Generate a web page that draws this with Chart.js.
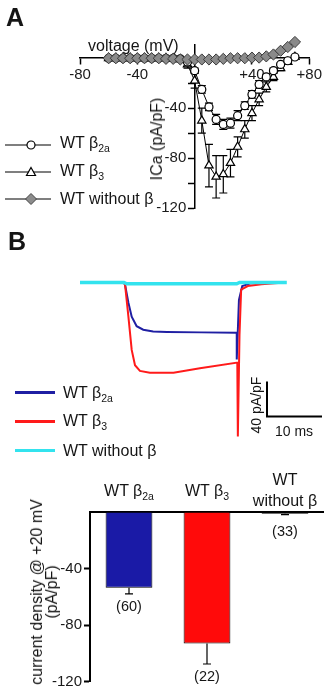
<!DOCTYPE html>
<html>
<head>
<meta charset="utf-8">
<script src="https://cdn.jsdelivr.net/npm/chart.js@4.4.1/dist/chart.umd.min.js"></script>
<style>
body { margin: 0; background: #fff; }
#fig { position: relative; width: 324px; height: 698px; overflow: hidden; background: #fff;
       font-family: "Liberation Sans", Arial, Helvetica, sans-serif; color: #151515; }
#fig canvas { position: absolute; left: 0; }
.t { position: absolute; white-space: nowrap; font-size: 16px; line-height: 16px; }
.big { font-weight: bold; font-size: 25px; line-height: 25px; }
.rot { transform: translate(-50%, -50%) rotate(-90deg); }
.c { transform: translateX(-50%); text-align: center; }
sub { font-size: 10.5px; vertical-align: -4px; line-height: 0; }
.sw { position: absolute; width: 40px; }
</style>
</head>
<body>
<div id="fig">
  <canvas id="iv" width="324" height="190" style="top:30px"></canvas>
  <canvas id="trace" width="324" height="185" style="top:260px"></canvas>
  <canvas id="bars" width="324" height="198" style="top:500px"></canvas>

  <!-- panel A -->
  <div class="t big" style="left:6px;top:5px">A</div>
  <div class="t" style="left:88px;top:38px">voltage (mV)</div>
  <div class="t rot" style="left:157px;top:139px">ICa (pA/pF)</div>
  <svg class="t" style="left:4px;top:137px" width="52" height="16">
    <line x1="1" y1="8" x2="47" y2="8" stroke="#000" stroke-width="1.2"/>
    <circle cx="27" cy="8" r="4" fill="#fff" stroke="#000" stroke-width="1.2"/>
  </svg>
  <div class="t" style="left:60px;top:135px">WT β<sub>2a</sub></div>
  <svg class="t" style="left:4px;top:164px" width="52" height="16">
    <line x1="1" y1="8" x2="47" y2="8" stroke="#000" stroke-width="1.2"/>
    <polygon points="27,3.5 31.5,11.5 22.5,11.5" fill="#fff" stroke="#000" stroke-width="1.2"/>
  </svg>
  <div class="t" style="left:60px;top:163px">WT β<sub>3</sub></div>
  <svg class="t" style="left:4px;top:191px" width="52" height="16">
    <line x1="1" y1="8" x2="47" y2="8" stroke="#000" stroke-width="1.2"/>
    <polygon points="27,2.5 32.5,8 27,13.5 21.5,8" fill="#8c8c8c" stroke="#444" stroke-width="1"/>
  </svg>
  <div class="t" style="left:60px;top:191px">WT without β</div>

  <!-- panel B -->
  <div class="t big" style="left:8px;top:229px">B</div>
  <div class="sw" style="left:15px;top:391px;height:2.5px;background:#1f1fa3"></div>
  <div class="t" style="left:63px;top:385px">WT β<sub>2a</sub></div>
  <div class="sw" style="left:15px;top:420px;height:2.5px;background:#ff1a1a"></div>
  <div class="t" style="left:63px;top:413px">WT β<sub>3</sub></div>
  <div class="sw" style="left:15px;top:449px;height:3px;background:#33e3ee"></div>
  <div class="t" style="left:63px;top:443px">WT without β</div>
  <div class="t rot" style="left:256px;top:405px;font-size:14px">40 pA/pF</div>
  <div class="t c" style="left:294px;top:423px;font-size:14px">10 ms</div>

  <!-- panel C -->
  <div class="t rot" style="left:44px;top:592px;line-height:15px;text-align:center">current density @ +20 mV<br>(pA/pF)</div>
</div>

<script>
var FONT = '"Liberation Sans", Arial, Helvetica, sans-serif';
Chart.defaults.font.family = FONT;
Chart.defaults.font.size = 15;
Chart.defaults.color = '#1a1a1a';

// ---- A: current-voltage relation ----
var voltageMV = [-60, -55, -50, -45, -40, -35, -30, -25, -20, -15, -10, -5, 0, 5, 10,
                 15, 20, 25, 30, 35, 40, 45, 50, 55, 60, 65, 70];
var ivNoBeta  = [0, 0, 0, 0, 0, 0, 0, 0, -0.5, -0.5, -1, -1, -1, -1, -1,
                 -1, -0.5, 0, 0, 0, 0.5, 0.5, 1.5, 3, 6, 9, 13];
var ivBeta2a  = [0, 0, 0, 0, 0, 0, 0, 0, 0, 0, -0.5, -3, -10, -25, -39,
                 -49, -53, -52, -46, -38, -29, -21, -15, -10, -5, -2, 1];
var errBeta2a = [0, 0, 0, 0, 0, 0, 0, 0, 0, 0, 0, 1, 2, 3, 3,
                 4, 4, 4, 4, 3, 3, 3, 2, 2, 1, 1, 1];
var ivBeta3   = [0, 0, 0, 0, 0, 0, 0, 0, 0, -0.5, -1, -5, -18, -50, -86,
                 -95, -93, -84, -71, -57, -44, -33, -23, -15, -8, -3, 1];
var errBeta3  = [0, 0, 0, 0, 0, 0, 0, 0, 0, 0, 1, 3, 6, 10, 17,
                 17, 15, 11, 8, 7, 6, 5, 4, 3, 2, 2, 1];
var voltTicks = [-80, -40, 40, 80];
var ivTicks = [-120, -100, -80, -60, -40, -20];
var ivLabelled = [-40, -80, -120];

// ---- B: current traces at +20 mV ----
var timeBeta2a = [0, 8, 8.2, 8.8, 9.4, 10.3, 11.5, 13.3, 15.8, 22, 28.5, 28.5, 28.9, 29.5, 31, 37.2];
var currBeta2a = [0, 0, -3, -23, -39, -50, -54, -56, -56.5, -57, -57.5, -88, -20, -4, -1, 0];
var timeBeta3  = [0, 8, 8.2, 8.8, 9.4, 10, 10.9, 12.7, 17, 21.8, 28.6, 28.7, 29.0, 29.3, 30.5, 33, 37.2];
var currBeta3  = [0, 0, -3, -39, -77, -94.5, -101, -103, -103, -98, -91.5, -176, -60, -8, -4, -2, 0];
var timeNoBeta = [0, 8, 8.5, 28.5, 29, 37.6];
var currNoBeta = [0, 0, -1.5, -1.5, 0, 0];
var barOrigin = [34, -153];   // ms, pA/pF
var barMs = 10, barPApF = 40;

// ---- C: current density at +20 mV ----
var groups = ['WT β2a', 'WT β3', 'WT without β'];
var groupHtml = ['WT β<sub>2a</sub>', 'WT β<sub>3</sub>', 'WT<br>without β'];
var density = [-53.6, -93, -1.5];
var densityErr = [4.4, 14.5, 0.5];
var cellCounts = [60, 22, 33];
var densityTicks = [-120, -80, -40];

function pts(xs, ys) {
  return xs.map(function(x, i) { return {x: x, y: ys[i]}; });
}

// error bars drawn through the y scale
function drawErrors(chart, opts) {
  var ctx = chart.ctx, ys = chart.scales.y;
  ctx.save();
  ctx.strokeStyle = '#000';
  ctx.lineWidth = opts.width || 1;
  chart.data.datasets.forEach(function(ds, i) {
    if (!ds.errors) return;
    var meta = chart.getDatasetMeta(i);
    meta.data.forEach(function(el, j) {
      var e = ds.errors[j];
      if (!e) return;
      var v = typeof ds.data[j] === 'object' ? ds.data[j].y : ds.data[j];
      var lo = ys.getPixelForValue(v - e);
      var hi = ys.getPixelForValue(opts.oneSided ? v : v + e);
      var w = opts.cap;
      ctx.beginPath();
      ctx.moveTo(el.x, hi); ctx.lineTo(el.x, lo);
      ctx.moveTo(el.x - w, lo); ctx.lineTo(el.x + w, lo);
      if (!opts.oneSided) { ctx.moveTo(el.x - w, hi); ctx.lineTo(el.x + w, hi); }
      ctx.stroke();
    });
  });
  ctx.restore();
}
var errorBars = {
  id: 'errorBars',
  beforeDatasetsDraw: function(chart, args, opts) { if (opts.under) drawErrors(chart, opts); },
  afterDatasetsDraw: function(chart, args, opts) { if (!opts.under) drawErrors(chart, opts); }
};

// ---------- chart A ----------
var ivChart = new Chart(document.getElementById('iv'), {
  type: 'line',
  data: {
    datasets: [{
      label: 'WT without β',
      data: pts(voltageMV, ivNoBeta),
      borderColor: '#444', borderWidth: 1,
      pointStyle: 'rectRot', pointRadius: 5.6,
      pointBackgroundColor: '#8a8a8a', pointBorderColor: '#3a3a3a', pointBorderWidth: 1,
      order: 0, clip: false
    }, {
      label: 'WT β2a',
      data: pts(voltageMV, ivBeta2a),
      errors: errBeta2a,
      borderColor: '#000', borderWidth: 1,
      pointStyle: 'circle', pointRadius: 4,
      pointBackgroundColor: '#fff', pointBorderColor: '#000', pointBorderWidth: 1.2,
      order: 1, clip: false
    }, {
      label: 'WT β3',
      data: pts(voltageMV, ivBeta3),
      errors: errBeta3,
      borderColor: '#000', borderWidth: 1,
      pointStyle: 'triangle', pointRadius: 4.8,
      pointBackgroundColor: '#fff', pointBorderColor: '#000', pointBorderWidth: 1.2,
      order: 2, clip: false
    }]
  },
  options: {
    responsive: false, animation: false, devicePixelRatio: 1,
    layout: {padding: {left: 80, right: 11, top: 15, bottom: 9.3}},
    plugins: {legend: {display: false}, tooltip: {enabled: false},
              errorBars: {under: true, cap: 4, width: 1.2}},
    scales: {
      x: {
        type: 'linear', min: -80, max: 80, position: {y: 0},
        grid: {drawOnChartArea: false, color: '#000', tickLength: 6, tickWidth: 1.5},
        border: {color: '#000', width: 1.5},
        ticks: {padding: 2, callback: function(v) { return v > 0 ? '+' + v : '' + v; }},
        afterBuildTicks: function(s) { s.ticks = voltTicks.map(function(v) { return {value: v}; }); }
      },
      y: {
        type: 'linear', min: -120, max: 10.6, position: {x: 0},
        grid: {drawOnChartArea: false, color: '#000', tickLength: 6, tickWidth: 1.5},
        border: {color: '#000', width: 1.5},
        ticks: {callback: function(v) { return ivLabelled.indexOf(v) >= 0 ? v + '  ' : ''; }},
        afterBuildTicks: function(s) { s.ticks = ivTicks.map(function(v) { return {value: v}; }); }
      }
    }
  },
  plugins: [errorBars]
});

// ---------- chart B ----------
var scaleBar = {
  id: 'scaleBar',
  afterDatasetsDraw: function(chart) {
    var xs = chart.scales.x, ys = chart.scales.y, ctx = chart.ctx;
    var x0 = xs.getPixelForValue(barOrigin[0]), y0 = ys.getPixelForValue(barOrigin[1]);
    ctx.save();
    ctx.strokeStyle = '#000'; ctx.lineWidth = 2;
    ctx.beginPath();
    ctx.moveTo(x0, ys.getPixelForValue(barOrigin[1] + barPApF));
    ctx.lineTo(x0, y0);
    ctx.lineTo(xs.getPixelForValue(barOrigin[0] + barMs), y0);
    ctx.stroke();
    ctx.restore();
  }
};
var traceChart = new Chart(document.getElementById('trace'), {
  type: 'line',
  data: {
    datasets: [{
      label: 'WT without β', data: pts(timeNoBeta, currNoBeta),
      borderColor: '#33e3ee', borderWidth: 3.4, pointRadius: 0, order: 0, clip: false
    }, {
      label: 'WT β2a', data: pts(timeBeta2a, currBeta2a),
      borderColor: '#1f1fa3', borderWidth: 2, pointRadius: 0, order: 2, clip: false
    }, {
      label: 'WT β3', data: pts(timeBeta3, currBeta3),
      borderColor: '#ff1a1a', borderWidth: 2, pointRadius: 0, order: 1, clip: false
    }]
  },
  options: {
    responsive: false, animation: false, devicePixelRatio: 1,
    layout: {padding: {left: 80, right: 2, top: 5, bottom: 5}},
    plugins: {legend: {display: false}, tooltip: {enabled: false}},
    scales: {
      x: {type: 'linear', min: 0, max: 44, display: false},
      y: {type: 'linear', min: -180, max: 20, display: false}
    }
  },
  plugins: [scaleBar]
});

// ---------- chart C ----------
var barChart = new Chart(document.getElementById('bars'), {
  type: 'bar',
  data: {
    labels: groups,
    datasets: [{
      data: density,
      errors: densityErr,
      backgroundColor: ['#1a1aa6', '#ff0a0a', '#1b4f44'],
      borderColor: '#000', borderWidth: 1, borderSkipped: false,
      barPercentage: 0.6, categoryPercentage: 1
    }]
  },
  options: {
    responsive: false, animation: false, devicePixelRatio: 1,
    layout: {padding: {left: 0, right: 0, top: 11.7, bottom: 16.3}},
    plugins: {legend: {display: false}, tooltip: {enabled: false},
              errorBars: {under: false, oneSided: true, cap: 4, width: 1.2}},
    scales: {
      x: {
        position: 'top',
        grid: {display: true, drawOnChartArea: false, drawTicks: false},
        border: {color: '#000', width: 2},
        ticks: {display: false},
        afterFit: function(s) { s.height = 0; }
      },
      y: {
        min: -120, max: 0,
        grid: {drawOnChartArea: false, color: '#000', tickLength: 6, tickWidth: 2},
        border: {color: '#000', width: 2},
        ticks: {padding: 2},
        afterBuildTicks: function(s) { s.ticks = densityTicks.map(function(v) { return {value: v}; }); },
        afterFit: function(s) { s.width = 90; }
      }
    }
  },
  plugins: [errorBars]
});

// labels of panel C placed from the chart's own scales
(function() {
  var fig = document.getElementById('fig');
  var xs = barChart.scales.x, ys = barChart.scales.y, top = 500;
  groups.forEach(function(g, i) {
    var cx = xs.getPixelForValue(i);
    var lab = document.createElement('div');
    lab.className = 't c';
    lab.innerHTML = groupHtml[i];
    if (i === 2) { lab.style.lineHeight = '20.5px'; lab.style.top = '470px'; }
    else { lab.style.top = '483px'; }
    lab.style.left = cx + 'px';
    fig.appendChild(lab);

    var n = document.createElement('div');
    n.className = 't c';
    n.style.fontSize = '14.5px';
    n.textContent = '(' + cellCounts[i] + ')';
    n.style.left = cx + 'px';
    n.style.top = (top + ys.getPixelForValue(density[i] - densityErr[i]) + (i === 2 ? 8 : 4)) + 'px';
    fig.appendChild(n);
  });
})();
</script>
</body>
</html>
